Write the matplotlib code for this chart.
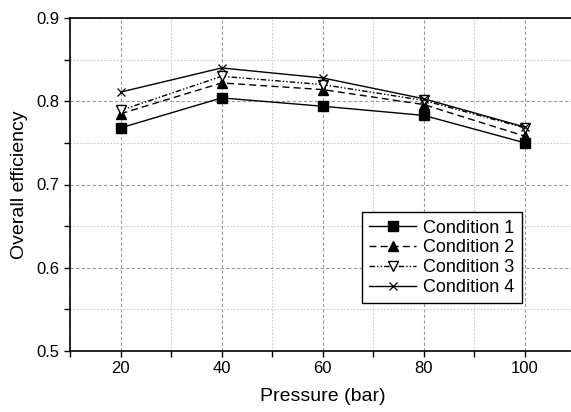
import numpy as np
import matplotlib
matplotlib.use("Agg")
import matplotlib.pyplot as plt
from matplotlib.ticker import MultipleLocator

plt.rcParams['font.family'] = ['Liberation Sans', 'DejaVu Sans']

# data
pressure = [20, 40, 60, 80, 100]
cond1 = [0.768, 0.804, 0.794, 0.783, 0.750]
cond2 = [0.785, 0.822, 0.814, 0.796, 0.758]
cond3 = [0.789, 0.830, 0.820, 0.801, 0.768]
cond4 = [0.811, 0.840, 0.828, 0.803, 0.769]
labels = ["Condition 1", "Condition 2", "Condition 3", "Condition 4"]

fig = plt.figure(figsize=(5.71, 4.12), dpi=100)
# axes runs past the right edge, as the reference is cropped there
ax = fig.add_axes([70/571, 61/412, 505.5/571, 333/412])

ax.plot(pressure, cond1, '-', color='k', lw=1, marker='s', ms=6.5,
        mfc='k', mec='k', label=labels[0])
ax.plot(pressure, cond2, '--', color='k', lw=1, marker='^', ms=7.5,
        mfc='k', mec='k', label=labels[1], dashes=(5, 3))
ax.plot(pressure, cond3, color='k', lw=1, marker='v', ms=7.5,
        mfc='white', mec='k', label=labels[2], dashes=(4, 1.5, 1, 1.5, 1, 1.5))
ax.plot(pressure, cond4, '-', color='k', lw=1, marker='x', ms=6,
        mec='k', mew=0.9, label=labels[3])

ax.set_xlim(10, 110)
ax.set_ylim(0.5, 0.9)
ax.xaxis.set_major_locator(MultipleLocator(20))
ax.xaxis.set_minor_locator(MultipleLocator(10))
ax.yaxis.set_major_locator(MultipleLocator(0.1))
ax.yaxis.set_minor_locator(MultipleLocator(0.05))
ax.set_xticks([20, 40, 60, 80, 100])

ax.grid(True, which='major', ls=(0, (3, 2)), color='#999999', lw=0.8)
ax.grid(True, which='minor', ls=(0, (1.5, 1.5)), color='#cccccc', lw=0.8)
ax.set_axisbelow(True)

ax.tick_params(which='both', direction='out', labelsize=12, width=1)
ax.tick_params(which='major', length=4)
ax.tick_params(which='minor', length=4)
ax.spines['right'].set_visible(False)
for s in ['left', 'bottom', 'top']:
    ax.spines[s].set_linewidth(1.2)

ax.set_xlabel("Pressure (bar)", fontsize=14, labelpad=8)
ax.set_ylabel("Overall efficiency", fontsize=14, labelpad=6)

leg = ax.legend(loc='lower right', bbox_to_anchor=(0.894, 0.144), fontsize=13,
                frameon=True, fancybox=False, edgecolor='k', framealpha=1,
                handlelength=2.6, borderpad=0.4, labelspacing=0.15,
                handletextpad=0.4, borderaxespad=0)
leg.get_frame().set_linewidth(1)

fig.savefig("out.png", dpi=100)
